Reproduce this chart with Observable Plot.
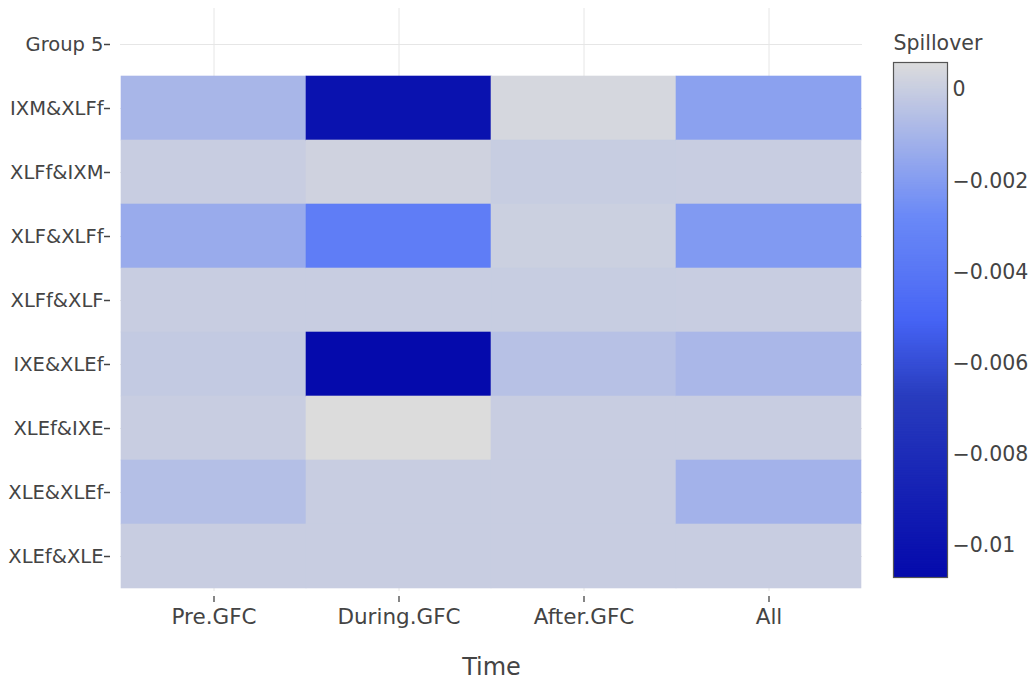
<!DOCTYPE html>
<html>
<head>
<meta charset="utf-8">
<script src="https://cdn.jsdelivr.net/npm/d3@7"></script>
<script src="https://cdn.jsdelivr.net/npm/@observablehq/plot@0.6"></script>
<style>
  html, body { margin: 0; padding: 0; background: white; }
  #wrap { position: relative; width: 1034px; height: 681px; }
  #cbar { position: absolute; left: 883px; top: 0; }
  #main { position: absolute; left: 0; top: 0; }
</style>
</head>
<body>
<div id="wrap"><div id="main"></div><div id="cbar"></div></div>
<script>
const rowLabels = ["Group 5", "IXM&XLFf", "XLFf&IXM", "XLF&XLFf", "XLFf&XLF", "IXE&XLEf", "XLEf&IXE", "XLE&XLEf", "XLEf&XLE"];
const pairs = rowLabels.slice(1);
const periods = ["Pre.GFC", "During.GFC", "After.GFC", "All"];
const preGFC    = [-0.00095, 0.0000, -0.0014, 0.0000, -0.00015, 0.0000, -0.0006, 0.0000];
const duringGFC = [-0.0101, 0.0002, -0.0036, 0.0000, -0.0107, 0.0006, 0.0000, 0.0000];
const afterGFC  = [0.0004, -0.00003, 0.0001, -0.00003, -0.0005, 0.0000, 0.0000, 0.0000];
const allPeriod = [-0.0018, 0.0000, -0.0021, 0.0000, -0.0009, 0.0000, -0.0011, 0.0000];
const colorbarTicks = [0, -0.002, -0.004, -0.006, -0.008, -0.01];
const stopFractions = [0, 0.35, 0.5, 0.6, 0.7, 1];
const stopColors = ["rgb(5,10,172)", "rgb(40,60,190)", "rgb(70,100,245)", "rgb(90,120,245)", "rgb(106,137,247)", "rgb(220,220,220)"];

const series = [preGFC, duringGFC, afterGFC, allPeriod];
const data = [];
periods.forEach((p, j) => pairs.forEach((r, i) => data.push({period: p, pair: r, value: series[j][i]})));

const zmin = d3.min(data, d => d.value);
const zmax = d3.max(data, d => d.value);
const colorScale = {
  type: "linear",
  domain: stopFractions.map(f => zmin + f * (zmax - zmin)),
  range: stopColors,
  interpolate: "rgb"
};

const main = Plot.plot({
  width: 1034,
  height: 681,
  marginLeft: 120,
  marginRight: 172,
  marginTop: 8,
  marginBottom: 90,
  style: {fontFamily: "DejaVu Sans", color: "#444", background: "white"},
  x: {domain: periods, padding: 0, label: null},
  y: {domain: rowLabels, padding: 0, label: null},
  color: colorScale,
  marks: [
    Plot.gridX({stroke: "#e6e6e6", strokeOpacity: 1}),
    Plot.gridY({stroke: "#e6e6e6", strokeOpacity: 1}),
    Plot.cell(data, {x: "period", y: "pair", fill: "value", stroke: "value", strokeWidth: 0.6}),
    Plot.axisX({tickSize: 6, tickPadding: 6, dy: 5, fontSize: 21.5, stroke: "#444", strokeWidth: 1.3, label: null}),
    Plot.axisY({tickSize: 6, tickPadding: 1, dx: -10, fontSize: 19.5, stroke: "#444", strokeWidth: 1.5, label: null}),
    Plot.text(["Time"], {frameAnchor: "bottom", dy: 83, fontSize: 24, fill: "#444"})
  ]
});
document.getElementById("main").appendChild(main);

const nStops = 300;
const bands = d3.range(nStops).map(k => {
  const a = zmin + (k / nStops) * (zmax - zmin);
  const b = zmin + ((k + 1.6) / nStops) * (zmax - zmin);
  return {y1: a, y2: Math.min(b, zmax), v: zmin + ((k + 0.5) / nStops) * (zmax - zmin)};
});

const cbar = Plot.plot({
  width: 151,
  height: 681,
  marginLeft: 10,
  marginRight: 87,
  marginTop: 62,
  marginBottom: 104,
  style: {fontFamily: "DejaVu Sans", color: "#444", background: "transparent", overflow: "visible"},
  y: {domain: [zmin, zmax], label: null},
  color: colorScale,
  marks: [
    Plot.rect(bands, {y1: "y1", y2: "y2", fill: "v"}),
    Plot.frame({stroke: "#555", strokeWidth: 1.2}),
    Plot.axisY({anchor: "right", ticks: colorbarTicks, tickSize: 0, tickPadding: 5, fontSize: 20.5,
      tickFormat: d => d3.format("~f")(d), label: null}),
    Plot.text(["Spillover"], {frameAnchor: "top-left", dy: -27, textAnchor: "start", fontSize: 20.5, fill: "#444"})
  ]
});
document.getElementById("cbar").appendChild(cbar);
</script>
</body>
</html>
